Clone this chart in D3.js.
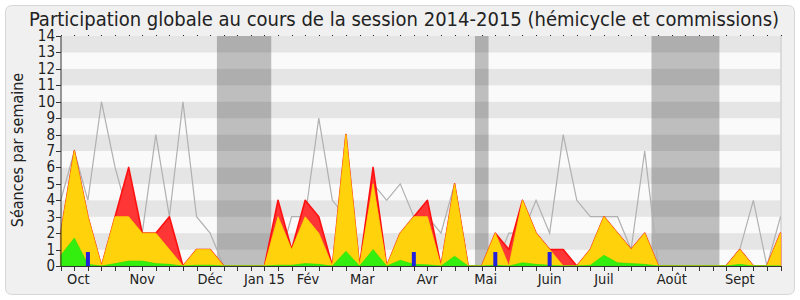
<!DOCTYPE html>
<html>
<head>
<meta charset="utf-8">
<script src="https://cdn.jsdelivr.net/npm/d3@7"></script>
<style>
  body { margin: 0; background: #fff; }
  svg text { font-family: "DejaVu Sans Condensed", "DejaVu Sans", sans-serif; fill: #222; }
</style>
</head>
<body>
<div id="chart"></div>
<script>
// one value per week, session 2014-2015
const seances =      [4, 7, 4, 10, 6, 3, 2, 8, 3, 10, 3, 2, 0, 0, 0, 0, 0, 3, 3, 9, 4, 3, 0, 5, 4, 5, 3, 3, 2, 5, 0, 0, 0, 2, 2, 4, 2, 8, 4, 3, 3, 3, 1, 7, 0, 0, 0, 0, 0, 0, 1, 4, 0, 3];
const presences =    [2, 7, 3, 0, 3, 6, 2, 2, 3, 0, 1, 1, 0, 0, 0, 0, 4, 1, 4, 3, 0, 8, 0, 6, 0, 2, 3, 4, 0, 5, 0, 0, 2, 1, 4, 2, 1, 1, 0, 1, 3, 2, 1, 2, 0, 0, 0, 0, 0, 0, 1, 0, 0, 2];
const participations = [2, 7, 3, 0, 3, 3, 2, 2, 1, 0, 1, 1, 0, 0, 0, 0, 3, 1, 3, 2, 0, 8, 0, 5, 0, 2, 3, 3, 0, 5, 0, 0, 2, 0, 4, 2, 1, 0, 0, 1, 3, 2, 1, 2, 0, 0, 0, 0, 0, 0, 1, 0, 0, 2];
const hemicycle =    [0.65, 1.7, 0.1, 0, 0.15, 0.3, 0.3, 0.15, 0.1, 0, 0.05, 0.05, 0, 0, 0, 0, 0.05, 0.05, 0.15, 0.1, 0, 0.9, 0, 1, 0, 0.35, 0.1, 0.07, 0, 0.6, 0, 0, 0.05, 0, 0.2, 0.1, 0.05, 0, 0, 0.05, 0.65, 0.2, 0.15, 0.1, 0, 0, 0, 0, 0, 0, 0.1, 0, 0, 0];
const questions =    [0, 0, 0.85, 0, 0, 0, 0, 0, 0, 0, 0, 0, 0, 0, 0, 0, 0, 0, 0, 0, 0, 0, 0, 0, 0, 0, 0.85, 0, 0, 0, 0, 0, 0.85, 0, 0, 0, 0.85, 0, 0, 0, 0, 0, 0, 0, 0, 0, 0, 0, 0, 0, 0, 0, 0, 0];

// holidays (week index bounds)
const vacStart = [11.5, 30.5, 43.5];
const vacEnd = [15.5, 31.5, 48.5];

const monthLabels = ['Oct', 'Nov', 'Déc', 'Jan 15', 'Fév', 'Mar', 'Avr', 'Mai', 'Juin', 'Juil', 'Août', 'Sept'];
const monthWeeks = [1.3, 6, 11, 15, 18.2, 22.2, 27, 31.3, 36, 40, 45, 50];
const yTicks = d3.range(0, 15);

const width = 800, height = 300;
const weeks = d3.range(seances.length);

const svg = d3.select('#chart').append('svg')
	.attr('width', width)
	.attr('height', height);

svg.append('rect')
	.attr('x', 5.5).attr('y', 5.5)
	.attr('width', 789).attr('height', 289)
	.attr('rx', 6)
	.attr('fill', '#f0f0f0')
	.attr('stroke', '#d6d6d6');

const xScale = d3.scaleLinear().domain([0, weeks.length - 1]).range([60.75, 780.5]);
const yScale = d3.scaleLinear().domain([0, 14]).range([266, 36]);

// striped background
svg.append('g').selectAll('rect')
	.data(d3.range(0, 14))
	.enter().append('rect')
	.attr('x', xScale(0))
	.attr('y', d => yScale(d + 1))
	.attr('width', xScale(weeks.length - 1) - xScale(0))
	.attr('height', d => yScale(d) - yScale(d + 1))
	.attr('fill', d => d % 2 ? '#e5e5e5' : '#fafafa');

// right border of the plot
svg.append('line')
	.attr('x1', xScale(weeks.length - 1) + 0.5).attr('x2', xScale(weeks.length - 1) + 0.5)
	.attr('y1', yScale(14)).attr('y2', yScale(0))
	.attr('stroke', '#c4c4c4');

svg.append('g').selectAll('rect')
	.data(vacStart)
	.enter().append('rect')
	.attr('x', d => xScale(d))
	.attr('y', yScale(14))
	.attr('width', (d, i) => xScale(vacEnd[i]) - xScale(d))
	.attr('height', yScale(0) - yScale(14))
	.attr('fill', 'rgba(0,0,0,0.24)');

const line = d3.line().x((d, i) => xScale(i)).y(d => yScale(d));
const area = d3.area().x((d, i) => xScale(i)).y0(yScale(0)).y1(d => yScale(d));

svg.append('path')
	.datum(seances)
	.attr('d', line)
	.attr('fill', 'none')
	.attr('stroke', '#b0b0b0')
	.attr('stroke-width', 1.2);

svg.append('path')
	.datum(presences)
	.attr('d', area)
	.attr('fill', '#ff3636')
	.attr('stroke', '#ff1010')
	.attr('stroke-width', 1.6)
	.attr('stroke-linejoin', 'round');

svg.append('path')
	.datum(participations)
	.attr('d', area)
	.attr('fill', '#ffd20c')
	.attr('stroke', '#ffd800')
	.attr('stroke-width', 0.8);

svg.append('path')
	.datum(hemicycle)
	.attr('d', area)
	.attr('fill', '#34ee10')
	.attr('stroke', '#2ee000')
	.attr('stroke-width', 0.6);

svg.append('g').selectAll('rect')
	.data(weeks.filter(i => questions[i] > 0))
	.enter().append('rect')
	.attr('x', i => xScale(i) - 2)
	.attr('y', i => yScale(questions[i]))
	.attr('width', 4)
	.attr('height', i => yScale(0) - yScale(questions[i]))
	.attr('fill', '#2020dd');

// axes
const axisColor = '#333';
svg.append('line')
	.attr('x1', 61).attr('x2', 61)
	.attr('y1', yScale(14)).attr('y2', yScale(0) + 1)
	.attr('stroke', axisColor);
svg.append('line')
	.attr('x1', 60.5).attr('x2', xScale(weeks.length - 1) + 1)
	.attr('y1', yScale(0) + 0.5).attr('y2', yScale(0) + 0.5)
	.attr('stroke', axisColor);

svg.append('g').selectAll('line')
	.data(yTicks)
	.enter().append('line')
	.attr('x1', 56).attr('x2', 61)
	.attr('y1', d => Math.round(yScale(d)) + 0.5)
	.attr('y2', d => Math.round(yScale(d)) + 0.5)
	.attr('stroke', axisColor);

svg.append('g').selectAll('text')
	.data(yTicks)
	.enter().append('text')
	.attr('x', 55)
	.attr('y', d => yScale(d) + 5)
	.attr('text-anchor', 'end')
	.attr('font-size', 15)
	.text(d => d);

// week ticks, bottom and top
svg.append('g').selectAll('line')
	.data(weeks)
	.enter().append('line')
	.attr('x1', d => Math.round(xScale(d)) + 0.5)
	.attr('x2', d => Math.round(xScale(d)) + 0.5)
	.attr('y1', yScale(0)).attr('y2', yScale(0) + 5)
	.attr('stroke', axisColor);

svg.append('g').selectAll('rect')
	.data(weeks)
	.enter().append('rect')
	.attr('x', d => Math.round(xScale(d)))
	.attr('y', yScale(14) - 1)
	.attr('width', 1).attr('height', 1)
	.attr('fill', '#222');

svg.append('g').selectAll('text')
	.data(monthLabels)
	.enter().append('text')
	.attr('x', (d, i) => xScale(monthWeeks[i]))
	.attr('y', 284)
	.attr('text-anchor', 'middle')
	.attr('font-size', 14.5)
	.text(d => d);

svg.append('text')
	.attr('transform', 'translate(23,150) rotate(-90)')
	.attr('text-anchor', 'middle')
	.attr('font-size', 16)
	.text('Séances par semaine');

svg.append('text')
	.attr('x', 404)
	.attr('y', 25.5)
	.attr('text-anchor', 'middle')
	.attr('font-size', 20)
	.text('Participation globale au cours de la session 2014-2015 (hémicycle et commissions)');
</script>
</body>
</html>
